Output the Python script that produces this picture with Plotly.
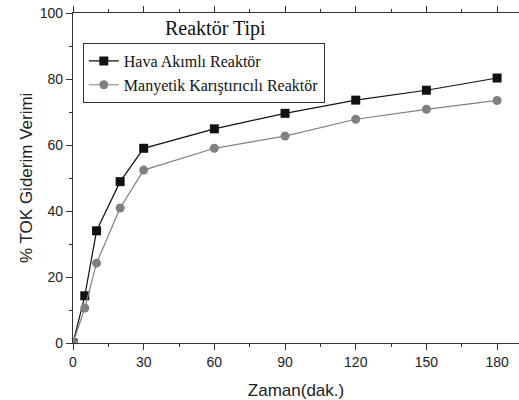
import plotly.graph_objects as go

time_min = [0, 5, 10, 20, 30, 60, 90, 120, 150, 180]
hava = [0, 14.3, 34.0, 48.9, 59.0, 64.9, 69.6, 73.6, 76.6, 80.3]
manyetik = [0, 10.6, 24.2, 40.9, 52.4, 59.0, 62.7, 67.8, 70.8, 73.5]

x_ticks = [0, 30, 60, 90, 120, 150, 180]
y_ticks = [0, 20, 40, 60, 80, 100]

fig = go.Figure()
fig.add_trace(go.Scatter(
    x=time_min, y=hava, name="Hava Akımlı Reaktör", mode="lines+markers",
    line=dict(color="#111111", width=1.2),
    marker=dict(symbol="square", size=9, color="#111111"),
))
fig.add_trace(go.Scatter(
    x=time_min, y=manyetik, name="Manyetik Karıştırıcılı Reaktör", mode="lines+markers",
    line=dict(color="#808080", width=1.2),
    marker=dict(symbol="circle", size=9, color="#808080"),
))

sans = "Liberation Sans Narrow, Arial Narrow, Liberation Sans"
tickfont = dict(family=sans, size=14, color="#222")
fig.update_layout(
    width=519, height=400,
    margin=dict(l=73, r=0, t=13, b=57),
    paper_bgcolor="white", plot_bgcolor="white",
    showlegend=True,
    legend=dict(
        x=0.022, y=0.909, xanchor="left", yanchor="top",
        bordercolor="#333", borderwidth=1, bgcolor="white",
        font=dict(family="Liberation Serif, Times New Roman, serif", size=16, color="#111"),
        tracegroupgap=0, itemwidth=30,
    ),
    xaxis=dict(
        range=[0, 189.3], tickvals=x_ticks, ticktext=[str(v) for v in x_ticks],
        showline=True, linecolor="#333", linewidth=1.3, mirror="ticks",
        ticks="outside", ticklen=6, tickcolor="#333",
        minor=dict(dtick=15, ticks="outside", ticklen=3, tickcolor="#333"),
        showgrid=False, zeroline=False, tickfont=tickfont, automargin=False,
        title=dict(text="Zaman(dak.)", font=dict(family=sans, size=17, color="#222")),
    ),
    yaxis=dict(
        range=[0, 100], tickvals=y_ticks, ticktext=[str(v) for v in y_ticks],
        showline=True, linecolor="#333", linewidth=1.3,
        ticks="outside", ticklen=6, tickcolor="#333",
        minor=dict(dtick=10, ticks="outside", ticklen=3, tickcolor="#333"),
        showgrid=False, zeroline=False, tickfont=tickfont, automargin=False,
    ),
    annotations=[
        dict(
            text="Reaktör Tipi", x=0.32, y=1.0, xref="paper", yref="paper",
            xanchor="center", yanchor="top", showarrow=False, yshift=-2,
            font=dict(family="Liberation Serif, Times New Roman, serif", size=20, color="#111"),
        ),
        dict(
            text="% TOK Giderim Verimi", x=0, y=0.5, xref="paper", yref="paper",
            xanchor="center", yanchor="middle", showarrow=False, xshift=-47,
            textangle=-90, font=dict(family=sans, size=17, color="#222"),
        ),
    ],
)

# remove the browser's default 8px body margin so the figure fills the window
fig.write_html("out.html", config={"displayModeBar": False},
               post_script="document.body.style.margin='0';")
